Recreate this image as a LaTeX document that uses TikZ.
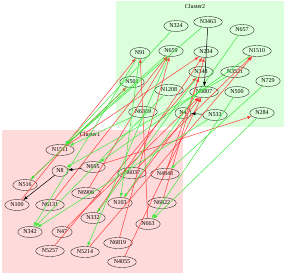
\documentclass[tikz,border=0pt]{standalone}
\usepackage{fontspec}
\setmainfont{Liberation Serif}
\usetikzlibrary{shapes.geometric}
\definecolor{clpink}{RGB}{255,218,218}
\definecolor{clgreen}{RGB}{218,255,218}
\definecolor{edgered}{RGB}{255,60,60}
\definecolor{edgegreen}{RGB}{60,232,60}
\tikzset{
  vtx/.style={ellipse,draw=black!80,line width=0.4pt,inner xsep=2pt,inner ysep=1pt,
    minimum height=11pt,font=\fontsize{6}{7}\selectfont},
  redge/.style={edgered,line width=0.5pt,-latex},
  gedge/.style={edgegreen,line width=0.5pt,-latex},
  kedge/.style={black,line width=0.5pt,-latex},
  cltitle/.style={font=\fontsize{6}{7}\selectfont}
}
\begin{document}
\begin{tikzpicture}[x=1pt,y=-1pt]
  \useasboundingbox (0,0) rectangle (286,276);
  % Clusters
  \fill[clgreen] (116,1) rectangle (284,127);
  \fill[clpink] (2,130) rectangle (183,273);
  \node[cltitle] (c2) at (195,6) {Cluster2};
  \node[cltitle] (c1) at (90,134) {Cluster1};
  % Cluster2 nodes
  \node[vtx] (N324) at (176,26) {N324};
  \node[vtx] (N3463) at (208,22) {N3463};
  \node[vtx] (N657) at (242,30) {N657};
  \node[vtx] (N91) at (140,53) {N91};
  \node[vtx] (N659) at (171,51) {N659};
  \node[vtx] (N234) at (206,52) {N234};
  \node[vtx] (N1510) at (257,51) {N1510};
  \node[vtx] (N348) at (201,72) {N348};
  \node[vtx] (N3521) at (235,72) {N3521};
  \node[vtx] (N729) at (268,81) {N729};
  \node[vtx] (N501) at (132,82) {N501};
  \node[vtx] (N1208) at (169,90) {N1208};
  \node[vtx] (N5807) at (204,92) {N5807};
  \node[vtx] (N500) at (237,92) {N500};
  \node[vtx] (N6369) at (143,112) {N6369};
  \node[vtx] (N4) at (183,113) {N4};
  \node[vtx] (N533) at (215,115) {N533};
  \node[vtx] (N284) at (262,113) {N284};
  % Cluster1 nodes
  \node[vtx] (N1511) at (60,150) {N1511};
  \node[vtx] (N8) at (60,171) {N8};
  \node[vtx] (N695) at (93,167) {N695};
  \node[vtx] (N6037) at (132,173) {N6037};
  \node[vtx] (N4848) at (165,174) {N4848};
  \node[vtx] (N516) at (25,185) {N516};
  \node[vtx] (N6906) at (86,193) {N6906};
  \node[vtx] (N100) at (17,205) {N100};
  \node[vtx] (N6131) at (50,205) {N6131};
  \node[vtx] (N103) at (120,203) {N103};
  \node[vtx] (N6822) at (162,203) {N6822};
  \node[vtx] (N332) at (93,218) {N332};
  \node[vtx] (N663) at (148,224) {N663};
  \node[vtx] (N342) at (30,232) {N342};
  \node[vtx] (N47) at (62,232) {N47};
  \node[vtx] (N6819) at (118,243) {N6819};
  \node[vtx] (N5257) at (50,251) {N5257};
  \node[vtx] (N5214) at (85,252) {N5214};
  \node[vtx] (N4055) at (122,262) {N4055};
  % Red edges, Cluster1 to Cluster2
  \draw[redge] (N100) -- (N91);
  \draw[redge] (N6131) -- (N659);
  \draw[redge] (N47) -- (N5807);
  \draw[redge] (N5257) -- (N348);
  \draw[redge] (N5214) -- (N1510);
  \draw[redge] (N6819) -- (N659);
  \draw[redge] (N4055) -- (N5807);
  \draw[redge] (N6822) -- (N234);
  \draw[redge] (N663) -- (N91);
  \draw[redge] (N6037) -- (N1510);
  \draw[redge] (N6906) -- (N659);
  \draw[redge] (N516) -- (N501);
  \draw[redge] (N103) -- (N5807);
  \draw[redge] (N4848) -- (N348);
  \draw[redge] (N332) -- (N234);
  \draw[redge] (N695) -- (N284);
  \draw[redge] (N1511) -- (N234);
  % Green edges, Cluster2 to Cluster1
  \draw[gedge] (N324) -- (N1511);
  \draw[gedge] (N3463) -- (N1511);
  \draw[gedge] (N657) -- (N103);
  \draw[gedge] (N91) -- (N342);
  \draw[gedge] (N659) -- (N1511);
  \draw[gedge] (N729) -- (N4848);
  \draw[gedge] (N284) -- (N663);
  \draw[gedge] (N500) -- (N663);
  \draw[gedge] (N3521) -- (N8);
  \draw[gedge] (N501) -- (N516);
  \draw[gedge] (N1208) -- (N342);
  \draw[gedge] (N6369) -- (N1511);
  \draw[gedge] (N533) -- (N342);
  \draw[gedge] (N1510) -- (N695);
  \draw[gedge] (N348) -- (N332);
  \draw[gedge] (N659) -- (N5214);
  \draw[gedge] (N91) -- (N103);
  % Black edges
  \draw[kedge] (N3463) -- (N5807);
  \draw[kedge] (N533) -- (N4);
  \draw[kedge] (N695) -- (N8);
  \draw[kedge] (N8) -- (N100);
\end{tikzpicture}
\end{document}
